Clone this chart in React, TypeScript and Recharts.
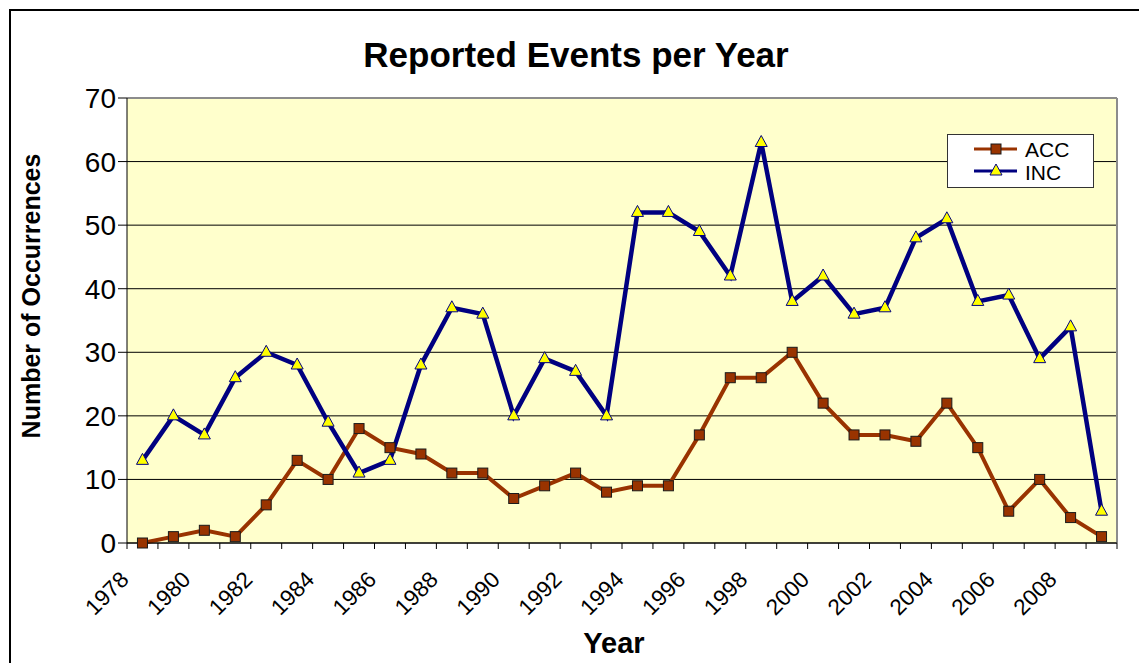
import React from 'react';
import { LineChart, Line, XAxis, YAxis, CartesianGrid, ReferenceLine, Legend } from 'recharts';

const years = [1978, 1979, 1980, 1981, 1982, 1983, 1984, 1985, 1986, 1987, 1988, 1989, 1990, 1991, 1992, 1993, 1994, 1995, 1996, 1997, 1998, 1999, 2000, 2001, 2002, 2003, 2004, 2005, 2006, 2007, 2008, 2009];
const accValues = [0, 1, 2, 1, 6, 13, 10, 18, 15, 14, 11, 11, 7, 9, 11, 8, 9, 9, 17, 26, 26, 30, 22, 17, 17, 16, 22, 15, 5, 10, 4, 1];
const incValues = [13, 20, 17, 26, 30, 28, 19, 11, 13, 28, 37, 36, 20, 29, 27, 20, 52, 52, 49, 42, 63, 38, 42, 36, 37, 48, 51, 38, 39, 29, 34, 5];
const yTicks = [0, 10, 20, 30, 40, 50, 60, 70];
const seriesNames = ['ACC', 'INC'];
const chartTitle = 'Reported Events per Year';
const xTitle = 'Year';
const yTitle = 'Number of Occurrences';

const data = years.map((year, i) => ({ year, pos: i + 0.5, ACC: accValues[i], INC: incValues[i] }));
const xTickPositions = [...years.map((_, i) => i), years.length];

const FONT = "'Liberation Sans', Arial, Helvetica, sans-serif";
const ACC_COLOR = '#993300';
const INC_COLOR = '#000080';

const SquareDot = (props: any) => {
  const { cx, cy, index } = props;
  if (cx == null || cy == null) return <g key={`s${index}`} />;
  return <rect key={`s${index}`} x={cx - 5} y={cy - 5} width={10} height={10} fill={ACC_COLOR} stroke="#1a1a1a" strokeWidth={1} />;
};

const TriDot = (props: any) => {
  const { cx, cy, index } = props;
  if (cx == null || cy == null) return <g key={`t${index}`} />;
  const pts = `${cx},${cy - 7} ${cx - 6},${cy + 4} ${cx + 6},${cy + 4}`;
  return <polygon key={`t${index}`} points={pts} fill="#FFFF00" stroke={INC_COLOR} strokeWidth={1} />;
};

const XTick = (props: any) => {
  const { x, y, payload } = props;
  const k = payload.value;
  if (k % 2 !== 0 || k >= years.length) return <g />;
  const ax = x + 3;
  const ay = y + 30;
  return (
    <text x={ax} y={ay} transform={`rotate(-45, ${ax}, ${ay})`} textAnchor="end" fontSize={22.5} fontFamily={FONT} fill="#000">
      {years[k]}
    </text>
  );
};

const LegendContent = () => (
  <div style={{ position: 'relative', width: 147, height: 54, boxSizing: 'border-box', border: '1px solid #333', background: '#fff', fontFamily: FONT }}>
    <svg width={147} height={54} style={{ position: 'absolute', left: -1, top: -1 }}>
      <line x1={27} x2={70} y1={15} y2={15} stroke={ACC_COLOR} strokeWidth={3} />
      <rect x={44} y={10} width={10} height={10} fill={ACC_COLOR} stroke="#1a1a1a" strokeWidth={1} />
      <text x={78} y={23} fontSize={21} fontFamily={FONT} fill="#000">{seriesNames[0]}</text>
      <line x1={27} x2={70} y1={37} y2={37} stroke={INC_COLOR} strokeWidth={3} />
      <polygon points={`49,30 43,41 55,41`} fill="#FFFF00" stroke={INC_COLOR} strokeWidth={1} />
      <text x={78} y={46} fontSize={21} fontFamily={FONT} fill="#000">{seriesNames[1]}</text>
    </svg>
  </div>
);

export default function App() {
  return (
    <div style={{ position: 'fixed', left: 0, top: 0, width: 1139, height: 663, overflow: 'hidden', background: '#fff' }}>
      <div style={{ position: 'absolute', left: 9, top: 9, width: 1200, height: 700, border: '2px solid #000' }} />
      <div style={{ position: 'absolute', left: 0, top: 37, width: 1139, textAlign: 'center', fontFamily: FONT, fontWeight: 'bold', fontSize: 35, lineHeight: '35px', paddingLeft: 13, boxSizing: 'border-box' }}>
        {chartTitle}
      </div>
      <div style={{ position: 'absolute', left: 0, top: 0 }}>
        <LineChart width={1139} height={663} data={data} margin={{ top: 98, right: 22, left: 0, bottom: 0 }}>
          <CartesianGrid horizontal={true} vertical={false} stroke="#000" strokeWidth={1} fill="#FFFFCC" fillOpacity={1} />
          <ReferenceLine y={70} stroke="#8c8c8c" strokeWidth={2} />
          <ReferenceLine x={32} stroke="#8c8c8c" strokeWidth={2} />
          <XAxis
            type="number"
            dataKey="pos"
            domain={[0, years.length]}
            ticks={xTickPositions}
            interval={0}
            height={120}
            tickSize={6}
            tickLine={{ stroke: '#000' }}
            axisLine={{ stroke: '#000' }}
            tick={<XTick />}
            label={{
              content: (p: any) => {
                const vb = p.viewBox;
                return (
                  <text x={vb.x + vb.width / 2 - 8} y={653} textAnchor="middle" fontSize={29} fontWeight="bold" fontFamily={FONT} fill="#000">
                    {xTitle}
                  </text>
                );
              },
            }}
          />
          <YAxis
            domain={[0, 70]}
            ticks={yTicks}
            interval={0}
            width={127}
            tickSize={9}
            tickMargin={2}
            tickLine={{ stroke: '#000' }}
            axisLine={{ stroke: '#000' }}
            tick={{ fontSize: 28, fontFamily: FONT, fill: '#000' }}
            label={{
              content: () => {
                const cx = 40;
                const cy = 296;
                return (
                  <text x={cx} y={cy} transform={`rotate(-90, ${cx}, ${cy})`} textAnchor="middle" fontSize={25} fontWeight="bold" fontFamily={FONT} fill="#000">
                    {yTitle}
                  </text>
                );
              },
            }}
          />
          <Legend
            layout="horizontal"
            verticalAlign="middle"
            align="center"
            content={<LegendContent />}
            wrapperStyle={{ position: 'absolute', left: 947, top: 134, width: 147, height: 54 }}
          />
          <Line type="linear" dataKey="ACC" name="ACC" stroke={ACC_COLOR} strokeWidth={4} dot={SquareDot} activeDot={false} isAnimationActive={false} />
          <Line type="linear" dataKey="INC" name="INC" stroke={INC_COLOR} strokeWidth={4.5} dot={TriDot} activeDot={false} isAnimationActive={false} />
        </LineChart>
      </div>
    </div>
  );
}
